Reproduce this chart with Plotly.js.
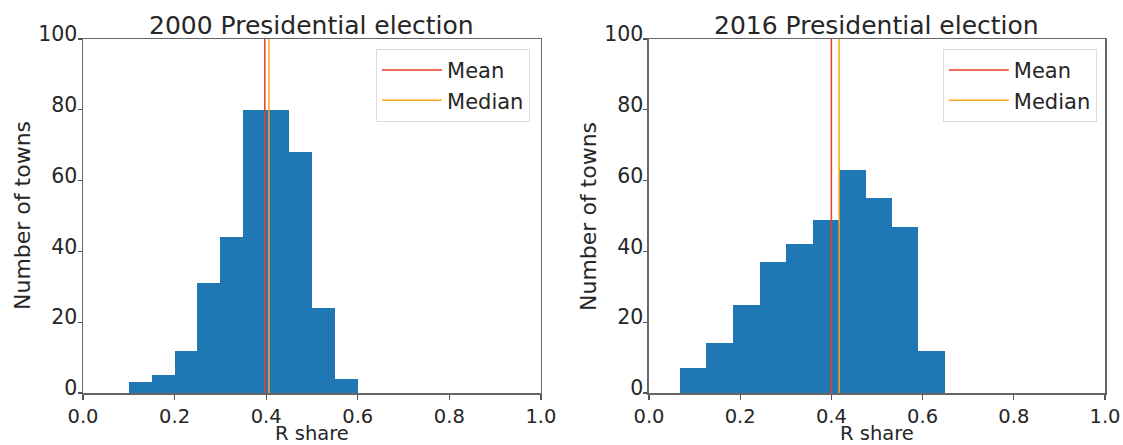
<!DOCTYPE html>
<html>
<head>
<meta charset="utf-8">
<script src="https://cdn.plot.ly/plotly-3.0.1.min.js"></script>
<style>html,body{margin:0;padding:0;background:#fff;}#chart{width:1123px;height:445px;}</style>
</head>
<body>
<div id="chart"></div>
<script>
// 2000 election histogram
const binEdges2000 = [0.10, 0.15, 0.20, 0.25, 0.30, 0.35, 0.40, 0.45, 0.50, 0.55, 0.60];
const counts2000 = [3, 5, 12, 31, 44, 80, 80, 68, 24, 4];
const mean2000 = 0.397;
const median2000 = 0.406;

// 2016 election histogram
const binEdges2016 = [0.068, 0.126, 0.184, 0.243, 0.301, 0.359, 0.417, 0.475, 0.533, 0.591, 0.650];
const counts2016 = [7, 14, 25, 37, 42, 49, 63, 55, 47, 12];
const mean2016 = 0.400;
const median2016 = 0.417;

const titles = ["2000 Presidential election", "2016 Presidential election"];
const xTitle = "R share";
const yTitle = "Number of towns";
const xTicks = [0.0, 0.2, 0.4, 0.6, 0.8, 1.0];
const xTickText = ["0.0", "0.2", "0.4", "0.6", "0.8", "1.0"];
const yTicks = [0, 20, 40, 60, 80, 100];

const FONT = "DejaVu Sans, sans-serif";
const TXT = "#262626";
const BLUE = "#1f77b4";
const RED = "#ec3b26";
const ORANGE = "#ffa31a";

function centers(edges) { return edges.slice(0, -1).map((e, i) => (e + edges[i + 1]) / 2); }
function widths(edges) { return edges.slice(0, -1).map((e, i) => edges[i + 1] - e); }

function panel(edges, counts, mean, median, xa, ya, leg) {
  return [
    { type: "bar", x: centers(edges), y: counts, width: widths(edges),
      marker: { color: BLUE, line: { width: 0 } }, showlegend: false,
      xaxis: xa, yaxis: ya, hoverinfo: "x+y" },
    { type: "scatter", mode: "lines", x: [mean, mean], y: [0, 100], name: "Mean",
      line: { color: RED, width: 1.5 }, xaxis: xa, yaxis: ya, legend: leg },
    { type: "scatter", mode: "lines", x: [median, median], y: [0, 100], name: "Median",
      line: { color: ORANGE, width: 1.5 }, xaxis: xa, yaxis: ya, legend: leg }
  ];
}

const data = [
  ...panel(binEdges2000, counts2000, mean2000, median2000, "x", "y", "legend"),
  ...panel(binEdges2016, counts2016, mean2016, median2016, "x2", "y2", "legend2")
];

function xaxis(domain, anchor) {
  return {
    domain: domain, anchor: anchor, range: [0, 1], tickvals: xTicks, ticktext: xTickText,
    ticks: "outside", ticklen: 5, tickwidth: 1.2, tickcolor: "#555",
    showline: true, linecolor: "#666", linewidth: 1.5, mirror: true,
    showgrid: false, zeroline: false, automargin: false,
    ticklabelstandoff: 0,
    tickfont: { family: FONT, size: 19.5, color: TXT }
  };
}
function yaxis(anchor) {
  return {
    domain: [0, 1], anchor: anchor, range: [0, 100], tickvals: yTicks,
    ticks: "outside", ticklen: 4, tickwidth: 1.2, tickcolor: "#555",
    showline: true, linecolor: "#666", linewidth: 1.5, mirror: true,
    showgrid: false, zeroline: false, automargin: false,
    ticklabelstandoff: -4, ticklabelshift: -5,
    tickfont: { family: FONT, size: 20.5, color: TXT }
  };
}

const legendStyle = {
  bgcolor: "rgba(255,255,255,0.8)", bordercolor: "#dcdcdc", borderwidth: 1,
  font: { family: FONT, size: 21, color: TXT }, yanchor: "top", xanchor: "right",
  y: 0.972, tracegroupgap: 0, itemwidth: 60
};

function titleAnn(text, xref) {
  return { text: text, xref: xref, yref: "paper", x: 0.5, y: 1, yshift: -3,
    xanchor: "center", yanchor: "bottom", showarrow: false,
    font: { family: FONT, size: 25, color: TXT } };
}
function xTitleAnn(xref) {
  return { text: xTitle, xref: xref, yref: "paper", x: 0.5, y: 0, yshift: -40,
    xanchor: "center", yanchor: "middle", showarrow: false,
    font: { family: FONT, size: 19.5, color: TXT } };
}
function yTitleAnn(xref) {
  return { text: yTitle, xref: xref, yref: "paper", x: 0, y: 0.5, xshift: -61,
    xanchor: "center", yanchor: "middle", textangle: -90, showarrow: false,
    font: { family: FONT, size: 22, color: TXT } };
}

const layout = {
  width: 1123, height: 445,
  margin: { l: 83, r: 18, t: 39, b: 52 },
  paper_bgcolor: "#fff", plot_bgcolor: "#fff",
  showlegend: true,
  bargap: 0,
  xaxis: xaxis([0, 0.4481], "y"),
  yaxis: yaxis("x"),
  xaxis2: xaxis([0.5538, 1], "y2"),
  yaxis2: yaxis("x2"),
  legend: Object.assign({}, legendStyle, { x: 0.4374 }),
  legend2: Object.assign({}, legendStyle, { x: 0.992 }),
  annotations: [
    titleAnn(titles[0], "x domain"), titleAnn(titles[1], "x2 domain"),
    xTitleAnn("x domain"), xTitleAnn("x2 domain"),
    yTitleAnn("x domain"), yTitleAnn("x2 domain")
  ]
};

Plotly.newPlot("chart", data, layout, { staticPlot: true, displayModeBar: false });
</script>
</body>
</html>
